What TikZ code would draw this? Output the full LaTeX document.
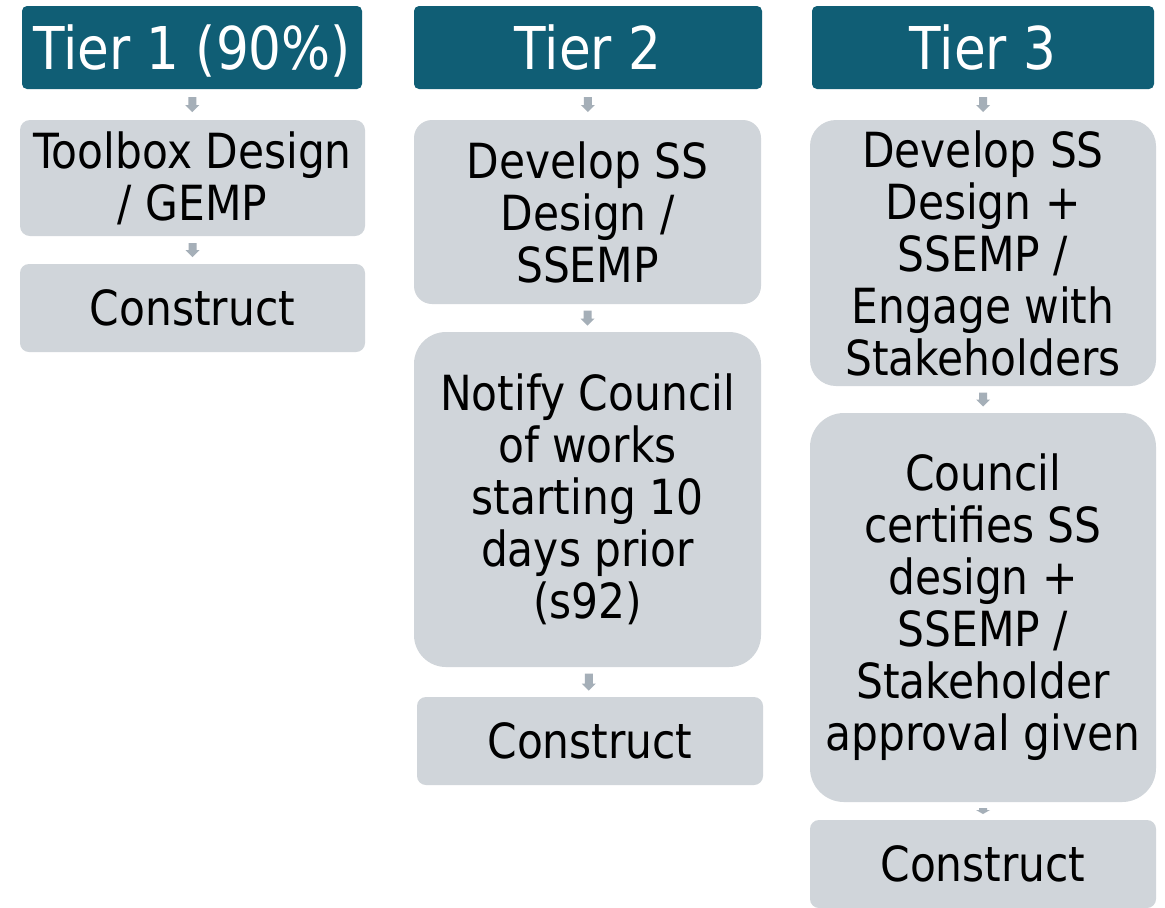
\documentclass[tikz,border=0pt]{standalone}
\usepackage{fontspec}
\setmainfont{DejaVu Sans}[FakeStretch=0.875]
\usetikzlibrary{calc}
\definecolor{hdrc}{HTML}{105E75}
\definecolor{boxc}{HTML}{D0D5DA}
\definecolor{arrc}{HTML}{A5AFB8}
\tikzset{
 hdr/.style={fill=hdrc, text=white, rounded corners=2.5pt, inner sep=0pt,
   font=\fontsize{29.5}{31}\selectfont, text height=21.5pt, text depth=0pt,
   minimum height=41.5pt},
 stepbox/.style={fill=boxc, inner sep=0pt, align=center,
   font=\fontsize{24.2}{26}\selectfont},
}
\newcommand\blockarr[4]{\fill[arrc] let \p1=($(#1.south)!0.5!(#2.north)$) in
  ($(\p1)+(-4,-#3)$) -- ($(\p1)+(4,-#3)$) -- ($(\p1)+(4,#4)$) -- ($(\p1)+(7,#4)$)
  -- ($(\p1)+(0,#3)$) -- ($(\p1)+(-7,#4)$) -- ($(\p1)+(-4,#4)$) -- cycle;}
\begin{document}
\begin{tikzpicture}[x=0.5pt,y=-0.5pt]
\useasboundingbox[fill=white] (0,0) rectangle (1165,907);
% headers
\node[hdr, minimum width=170pt] (h1) at (192,47.5) {Tier 1 (90\%)};
\node[hdr, minimum width=174pt] (h2) at (588,47.5) {Tier 2};
\node[hdr, minimum width=171pt] (h3) at (983,47.5) {Tier 3};
% column 1
\node[stepbox, minimum width=172.5pt, minimum height=58pt, rounded corners=5pt] (a1) at (192.5,178) {Toolbox Design\\/ GEMP};
\node[stepbox, minimum width=172.5pt, minimum height=44pt, rounded corners=4.5pt] (b1) at (192.5,308) {Construct};
% column 2
\node[stepbox, minimum width=173.5pt, minimum height=92pt, rounded corners=9pt] (a2) at (587.5,212) {Develop SS\\Design /\\SSEMP};
\node[stepbox, minimum width=173.5pt, minimum height=167.5pt, rounded corners=16pt] (b2) at (587.5,499.5) {Notify Council\\of works\\starting 10\\days prior\\(s92)};
\node[stepbox, minimum width=173pt, minimum height=44pt, rounded corners=4.5pt] (c2) at (590,741) {Construct};
% column 3
\node[stepbox, minimum width=173pt, minimum height=133pt, rounded corners=13pt] (a3) at (983,253) {Develop SS\\Design +\\SSEMP /\\Engage with\\Stakeholders};
\node[stepbox, minimum width=173pt, minimum height=194.5pt, rounded corners=17pt] (b3) at (983,607.5) {Council\\certifies SS\\design +\\SSEMP /\\Stakeholder\\approval given};
\node[stepbox, minimum width=173pt, minimum height=44pt, rounded corners=4.5pt] (c3) at (983,864) {Construct};
% arrows
\blockarr{h1}{a1}{7.5}{0.5}
\blockarr{a1}{b1}{7}{0}
\blockarr{h2}{a2}{7.5}{0.5}
\blockarr{a2}{b2}{7.5}{0.5}
\blockarr{b2}{c2}{8.5}{1.5}
\blockarr{h3}{a3}{7.5}{0.5}
\blockarr{a3}{b3}{7}{0}
\blockarr{b3}{c3}{3}{-1}
\end{tikzpicture}
\end{document}
